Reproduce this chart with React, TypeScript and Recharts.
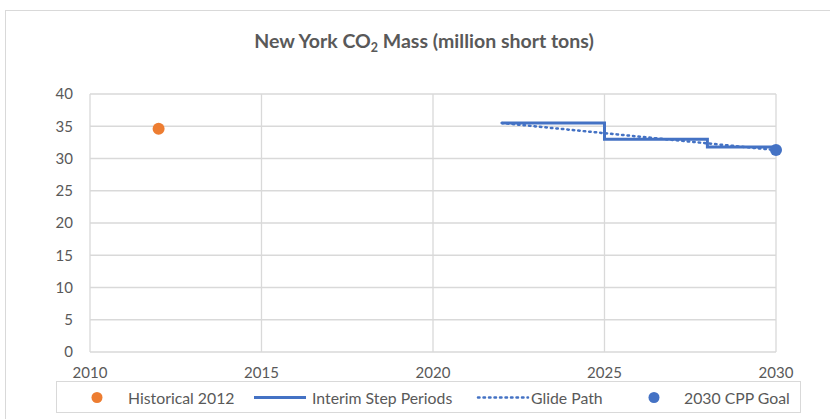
import { ComposedChart, Line, Scatter, XAxis, YAxis, CartesianGrid, Legend } from 'recharts'

const yearTicks = [2010, 2015, 2020, 2025, 2030]
const massTicks = [0, 5, 10, 15, 20, 25, 30, 35, 40]

const historicalYears = [2012]
const historicalMass = [34.6]

// interim steps: each value holds until the next year listed
const stepYears = [2022, 2025, 2028, 2030]
const stepMass = [35.5, 33.0, 31.8, 31.8]

const glideYears = [2022, 2030]
const glideMass = [35.5, 31.3]

const goalYears = [2030]
const goalMass = [31.3]

const BLUE = '#4472C4'
const ORANGE = '#ED7D31'
const TEXT = '#595959'
const GRID = '#d9d9d9'
const FONT = 'Lato, "Open Sans", sans-serif'

const toPoints = (years: number[], mass: number[]) =>
  years.map((year, i) => ({ year, mass: mass[i] }))

const historical = toPoints(historicalYears, historicalMass)
const steps = toPoints(stepYears, stepMass)
const glide = toPoints(glideYears, glideMass)
const goal = toPoints(goalYears, goalMass)

const dot = (color: string) => (props: any) =>
  <circle cx={props.cx} cy={props.cy} r={6} fill={color} />

function LegendBox() {
  const item: React.CSSProperties = { position: 'absolute', top: 6, fontSize: 15.8, color: TEXT, whiteSpace: 'nowrap' }
  return (
    <div style={{ position: 'relative', width: 745, height: 32, border: `1px solid ${GRID}`, boxSizing: 'border-box', fontFamily: FONT }}>
      <svg width={745} height={32} style={{ position: 'absolute', left: 0, top: 0 }}>
        <circle cx={40} cy={15.5} r={5.5} fill={ORANGE} />
        <line x1={197} x2={249} y1={15.5} y2={15.5} stroke={BLUE} strokeWidth={3} />
        <line x1={421} x2={471} y1={15.5} y2={15.5} stroke={BLUE} strokeWidth={2.5} strokeDasharray="1.5 4" strokeLinecap="round" />
        <circle cx={597} cy={15.5} r={5.5} fill={BLUE} />
      </svg>
      <span style={{ ...item, left: 71 }}>Historical 2012</span>
      <span style={{ ...item, left: 255 }}>Interim Step Periods</span>
      <span style={{ ...item, left: 474 }}>Glide Path</span>
      <span style={{ ...item, left: 627 }}>2030 CPP Goal</span>
    </div>
  )
}

export default function App() {
  return (
    <div style={{ position: 'absolute', left: 0, top: 0, width: 830, height: 419, overflow: 'hidden', background: '#fff', fontFamily: FONT }}>
      <div style={{ position: 'absolute', left: 5, top: 10, width: 900, height: 500, border: `1px solid ${GRID}` }} />
      <div style={{ position: 'absolute', left: 0, top: 29, width: 848, textAlign: 'center', fontSize: 19.5, fontWeight: 700, color: TEXT }}>
        New York CO<sub style={{ fontSize: 12.5, verticalAlign: -4 }}>2</sub> Mass (million short tons)
      </div>
      <ComposedChart width={830} height={419} margin={{ top: 94, right: 54, bottom: 37, left: 0 }} style={{ position: 'absolute', left: 0, top: 0 }}>
        <CartesianGrid stroke={GRID} strokeWidth={1.3} vertical horizontal />
        <XAxis
          type="number"
          dataKey="year"
          domain={[2010, 2030]}
          ticks={yearTicks}
          height={30}
          axisLine={false}
          tickLine={false}
          tickSize={0}
          tickMargin={15}
          tick={{ fill: TEXT, fontSize: 15, fontFamily: FONT }}
          allowDuplicatedCategory={false}
        />
        <YAxis
          type="number"
          dataKey="mass"
          domain={[0, 40]}
          ticks={massTicks}
          width={90}
          axisLine={false}
          tickLine={false}
          tickSize={0}
          tickMargin={17}
          tick={{ fill: TEXT, fontSize: 15, fontFamily: FONT }}
        />
        <Scatter name="Historical 2012" data={historical} fill={ORANGE} shape={dot(ORANGE)} isAnimationActive={false} />
        <Line name="Interim Step Periods" data={steps} dataKey="mass" type="stepAfter" stroke={BLUE} strokeWidth={3} dot={false} activeDot={false} isAnimationActive={false} />
        <Line name="Glide Path" data={glide} dataKey="mass" type="linear" stroke={BLUE} strokeWidth={2.5} strokeDasharray="1.5 4" strokeLinecap="round" dot={false} activeDot={false} isAnimationActive={false} />
        <Scatter name="2030 CPP Goal" data={goal} fill={BLUE} shape={dot(BLUE)} isAnimationActive={false} />
        <Legend
          layout="horizontal"
          verticalAlign="middle"
          align="center"
          content={() => <LegendBox />}
          wrapperStyle={{ left: 56, top: 381, width: 745, height: 32 }}
        />
      </ComposedChart>
    </div>
  )
}
